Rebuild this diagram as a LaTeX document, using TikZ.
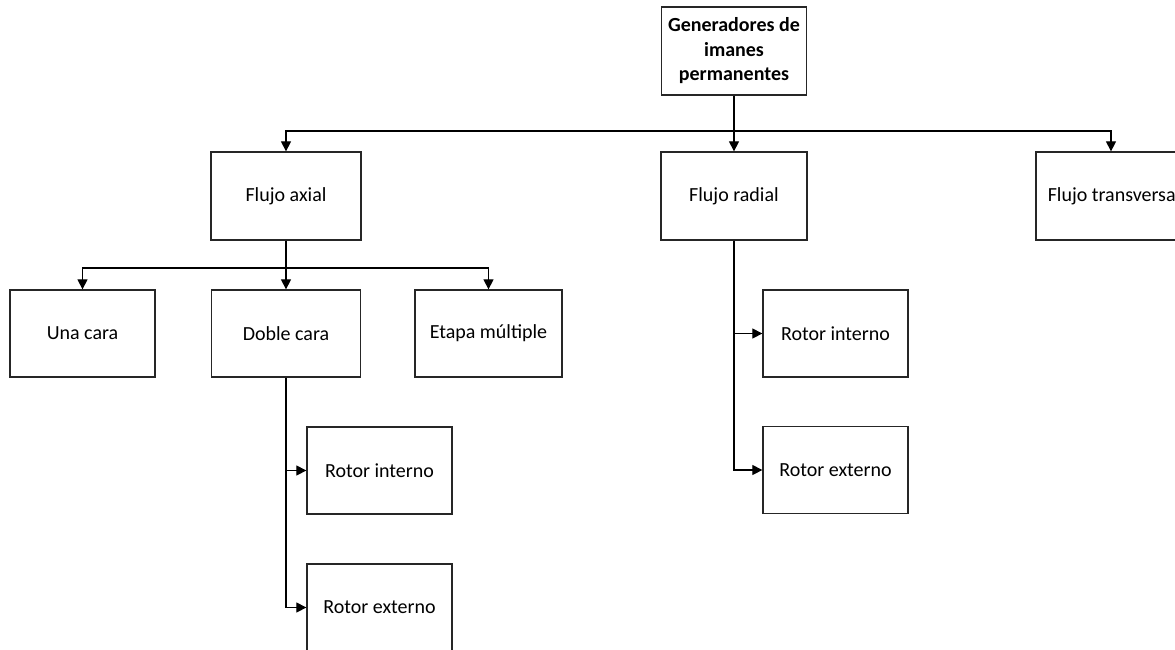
\documentclass[tikz,border=0pt]{standalone}
\usepackage{fontspec}
\setmainfont{Carlito}
\usetikzlibrary{arrows.meta}
\begin{document}
\begin{tikzpicture}[x=1pt,y=-1pt,
  box/.style={draw=black!85,line width=1.3pt,minimum height=87pt,minimum width=146pt,inner sep=0pt,align=center,font=\fontsize{20}{24.5}\selectfont},
  conn/.style={draw=black,line width=1.2pt},
  arr/.style={conn,-{Triangle[length=10pt,width=10pt]}}]
\clip (0,0) rectangle (1175,649);
\fill[white] (0,0) rectangle (1175,649);
\node[box,minimum width=145pt,minimum height=88pt,font=\fontsize{20}{24.5}\selectfont\bfseries] (root) at (734,51) {Generadores de\\imanes\\permanentes};
\node[box,minimum width=150pt,minimum height=88pt] (fa) at (286,196) {Flujo axial};
\node[box,minimum width=146pt,minimum height=88pt] (fr) at (734,196) {Flujo radial};
\node[box,minimum width=150pt,minimum height=88pt] (ft) at (1111,196) {\hspace*{6pt}Flujo transversal};
\node[box,minimum width=145pt] (uc) at (82.5,333.5) {Una cara};
\node[box,minimum width=149pt] (dc) at (286,333.5) {Doble cara};
\node[box,minimum width=147pt] (em) at (488.5,333.5) {Etapa múltiple};
\node[box,minimum width=145pt] (ri1) at (379.5,470.5) {Rotor interno};
\node[box,minimum width=145pt] (re1) at (379.5,607.5) {Rotor externo};
\node[box,minimum width=145pt] (ri2) at (835.5,333.5) {Rotor interno};
\node[box,minimum width=145pt] (re2) at (835.5,470) {Rotor externo};
\coordinate (j1) at (734,131);
\coordinate (j2) at (286,268);
\draw[conn] (root.south) -- (j1);
\draw[arr] (j1) -| (fa.north);
\draw[arr] (j1) -- (fr.north);
\draw[arr] (j1) -| (ft.north);
\draw[conn] (fa.south) -- (j2);
\draw[arr] (j2) -| (uc.north);
\draw[arr] (j2) -- (dc.north);
\draw[arr] (j2) -| (em.north);
\draw[arr] (dc.south) |- (ri1.west);
\draw[arr] (dc.south) |- (re1.west);
\draw[arr] (fr.south) |- (ri2.west);
\draw[arr] (fr.south) |- (re2.west);
\end{tikzpicture}
\end{document}
